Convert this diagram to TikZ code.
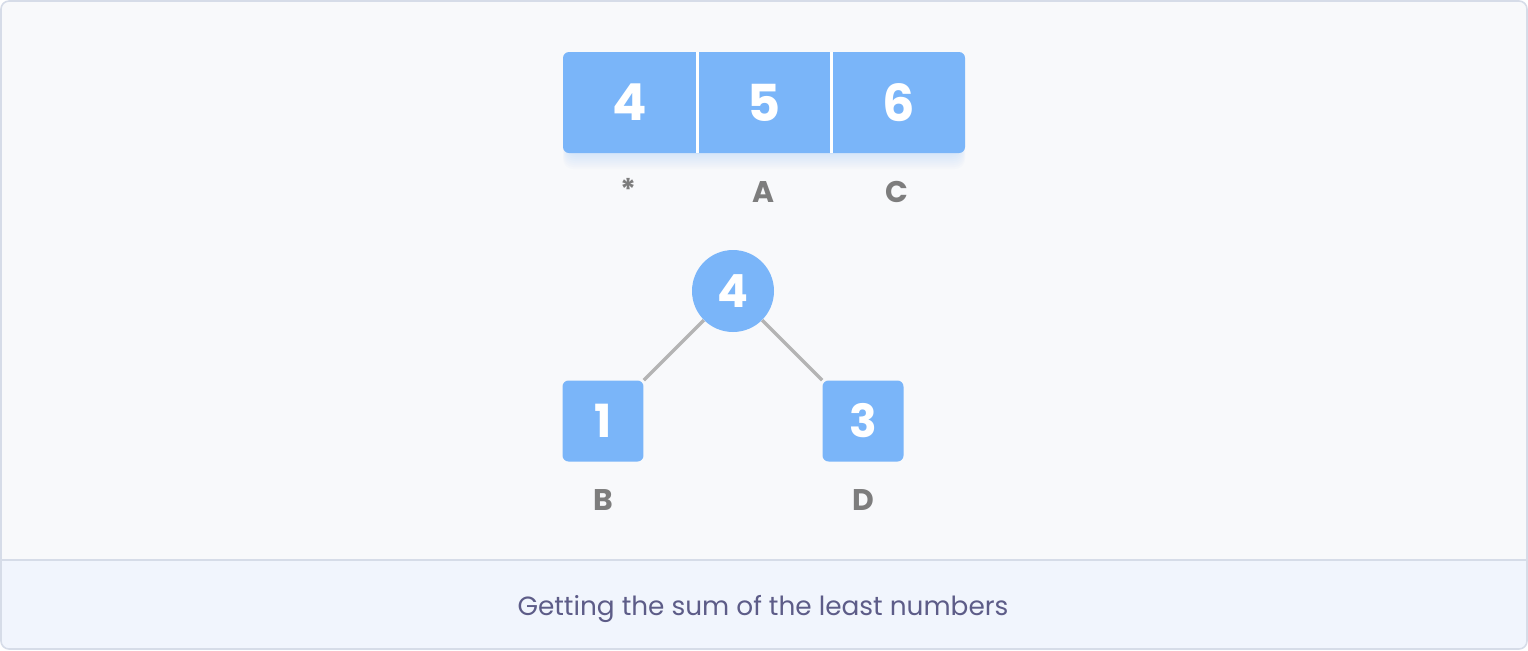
\documentclass[tikz,border=0pt]{standalone}
\usepackage{fontspec}
\setmainfont{Poppins}
\usetikzlibrary{positioning}
\definecolor{cellblue}{HTML}{7AB5F9}
\definecolor{labgray}{HTML}{7D7D7D}
\definecolor{edgegray}{HTML}{B4B4B4}
\definecolor{framecol}{HTML}{D6DCE8}
\definecolor{panelbg}{HTML}{F8F9FB}
\definecolor{capbg}{HTML}{F1F5FD}
\definecolor{captext}{HTML}{5D5C88}

\begin{document}
\begin{tikzpicture}[x=0.02cm, y=-0.02cm,
  cell/.style={minimum width=2.68cm, minimum height=2.02cm, inner sep=0pt, text=white, font=\fontsize{29}{29}\selectfont\bfseries},
  treebox/.style={fill=cellblue, rounded corners=0.12cm, minimum size=1.62cm, inner sep=0pt, text=white, font=\fontsize{26}{26}\selectfont\bfseries},
  treecirc/.style={circle, fill=cellblue, minimum size=1.64cm, inner sep=0pt, text=white, font=\fontsize{26}{26}\selectfont\bfseries},
  lab/.style={anchor=base, text=labgray, font=\fontsize{17}{17}\selectfont\bfseries},
  edge/.style={draw=edgegray, line width=1.9pt}]
\useasboundingbox (0,0) rectangle (1528,650);
% panel and caption band
\begin{scope}
\clip[rounded corners=0.16cm] (1,1) rectangle (1527,649);
\fill[panelbg] (0,0) rectangle (1528,560); \fill[capbg] (0,560) rectangle (1528,650);
\end{scope}
\draw[framecol, line width=1.1pt] (1,560) -- (1527,560);
\draw[framecol, line width=0.9pt, rounded corners=0.16cm] (1,1) rectangle (1527,649);
% array with a soft shadow
\foreach \k in {1,...,8}
  \fill[cellblue, opacity=0.03, rounded corners=0.2cm] (567-\k/2,70) rectangle (961+\k/2,153+2*\k);
\fill[cellblue, rounded corners=0.12cm] (563,52) rectangle (965,153);
\node[cell] (c1) at (630,102.5) {4}; \node[cell] (c2) at (764.5,102.5) {5}; \node[cell] (c3) at (898.5,102.5) {6};
\draw[white, line width=1.2pt] (697.5,52) -- (697.5,153); \draw[white, line width=1.2pt] (831.5,52) -- (831.5,153);
\node[lab] (lstar) at (628,200) {*}; \node[lab] (la) at (763,202) {A}; \node[lab] (lc) at (897,202) {C};
% tree
\node[treecirc] (root) at (733,291) {4};
\node[treebox] (left) at (603,421) {1}; \node[treebox] (right) at (863,421) {3};
\draw[edge] (root) -- (left); \draw[edge] (root) -- (right);
\node[lab] (lb) at (603,510) {B}; \node[lab] (ld) at (863,510) {D};
% caption
\node[anchor=base, text=captext, font=\fontsize{15}{15}\selectfont] (caption) at (763,615) {Getting the sum of the least numbers};
\end{tikzpicture}
\end{document}
